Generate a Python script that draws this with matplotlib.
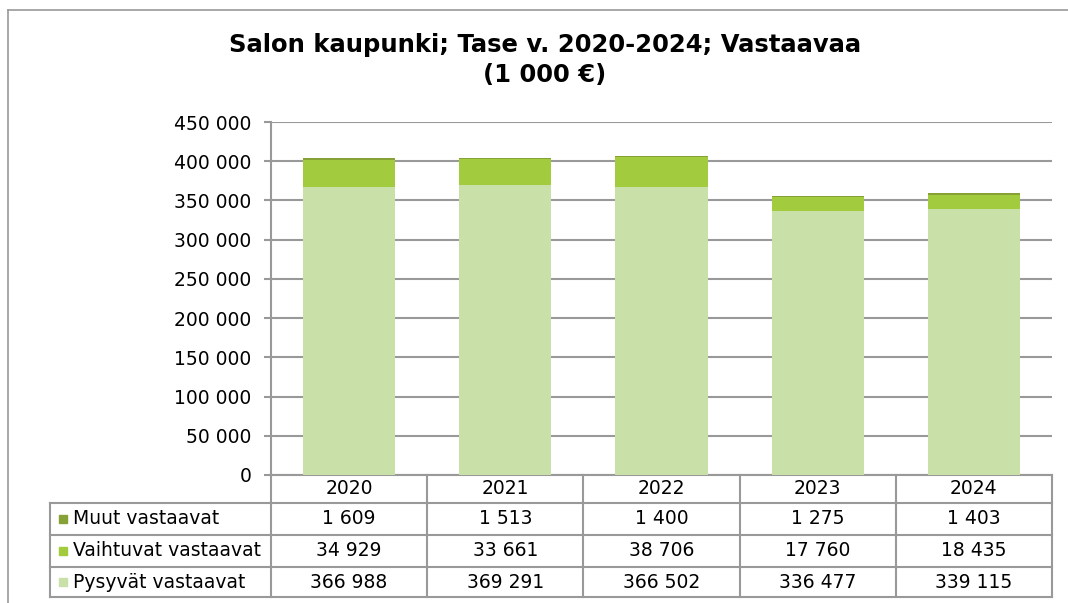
import matplotlib
matplotlib.use("Agg")
import matplotlib.pyplot as plt
from matplotlib.lines import Line2D
from matplotlib.ticker import FuncFormatter

years = ["2020", "2021", "2022", "2023", "2024"]
pysyvat = [366988, 369291, 366502, 336477, 339115]
vaihtuvat = [34929, 33661, 38706, 17760, 18435]
muut = [1609, 1513, 1400, 1275, 1403]

series_names = ["Muut vastaavat", "Vaihtuvat vastaavat", "Pysyvät vastaavat"]
colours = {"Muut vastaavat": "#86a136",
           "Vaihtuvat vastaavat": "#a2cb3e",
           "Pysyvät vastaavat": "#c9e0a8"}
title = "Salon kaupunki; Tase v. 2020-2024; Vastaavaa\n(1 000 €)"


def fmt(v, pos=None):
    return f"{int(v):,}".replace(",", " ")


plt.rcParams["font.family"] = ["DejaVu Sans"]
W, H = 1068, 603
fig = plt.figure(figsize=(W / 100, H / 100), dpi=100)

# plot area in pixel terms
left, right, top, bottom = 271, 1052, 122, 475
ax = fig.add_axes([left / W, 1 - bottom / H, (right - left) / W, (bottom - top) / H])

x = list(range(len(years)))
bw = 0.59
ax.bar(x, pysyvat, bw, color=colours["Pysyvät vastaavat"], zorder=3)
base2 = pysyvat
ax.bar(x, vaihtuvat, bw, bottom=base2, color=colours["Vaihtuvat vastaavat"], zorder=3)
base3 = [a + b for a, b in zip(pysyvat, vaihtuvat)]
ax.bar(x, muut, bw, bottom=base3, color=colours["Muut vastaavat"], zorder=3)

ax.set_xlim(-0.5, len(years) - 0.5)
ax.set_ylim(0, 450000)
ax.set_yticks(range(0, 450001, 50000))
ax.yaxis.set_major_formatter(FuncFormatter(fmt))
ax.set_xticks([])
ax.grid(axis="y", color="#999999", linewidth=1.5, zorder=0)
for s in ["top", "right"]:
    ax.spines[s].set_visible(False)
for s in ["left", "bottom"]:
    ax.spines[s].set_color("#999999")
    ax.spines[s].set_linewidth(1.5)
fs = 13.5
ax.tick_params(axis="y", length=5, width=1.5, color="#999999", labelsize=fs, pad=9)

fig.text(0.51, 1 - 60 / H, title, ha="center", va="center", fontsize=17.5,
         fontweight="bold", linespacing=1.3)

# data table below the axes
lc = "#999999"
aw = right - left
ah = bottom - top
def ax_x(px):
    return (px - left) / aw
def ax_y(py):
    return (bottom - py) / ah

row_edges = [475, 503, 535, 567, 597]
tab_left = 50
col_w = 1.0 / len(years)
kw = dict(transform=ax.transAxes, color=lc, linewidth=1.5, clip_on=False)
for py in row_edges[1:]:
    ax.add_line(Line2D([ax_x(tab_left), 1], [ax_y(py)] * 2, **kw))
for i in range(len(years) + 1):
    ax.add_line(Line2D([i * col_w] * 2, [0, ax_y(row_edges[-1])], **kw))
ax.add_line(Line2D([ax_x(tab_left)] * 2, [ax_y(row_edges[1]), ax_y(row_edges[-1])], **kw))

def row_mid(r):
    return ax_y((row_edges[r] + row_edges[r + 1]) / 2)

for i, yr in enumerate(years):
    ax.text((i + 0.5) * col_w, row_mid(0), yr, transform=ax.transAxes,
            ha="center", va="center", fontsize=fs)

table_rows = [muut, vaihtuvat, pysyvat]
for r, (name, vals) in enumerate(zip(series_names, table_rows), start=1):
    ym = row_mid(r)
    ax.plot([ax_x(63)], [ym], marker="s", ms=6, color=colours[name],
            transform=ax.transAxes, clip_on=False)
    ax.text(ax_x(73), ym, name, transform=ax.transAxes, ha="left",
            va="center", fontsize=fs)
    for i, v in enumerate(vals):
        ax.text((i + 0.5) * col_w, ym, fmt(v), transform=ax.transAxes,
                ha="center", va="center", fontsize=fs)

# chart area border (top and left visible)
fig.add_artist(Line2D([8 / W, 1], [1 - 10 / H] * 2, color="#999999", linewidth=1.2))
fig.add_artist(Line2D([8 / W] * 2, [0, 1 - 10 / H], color="#999999", linewidth=1.2))

fig.savefig("out.png", dpi=100)
